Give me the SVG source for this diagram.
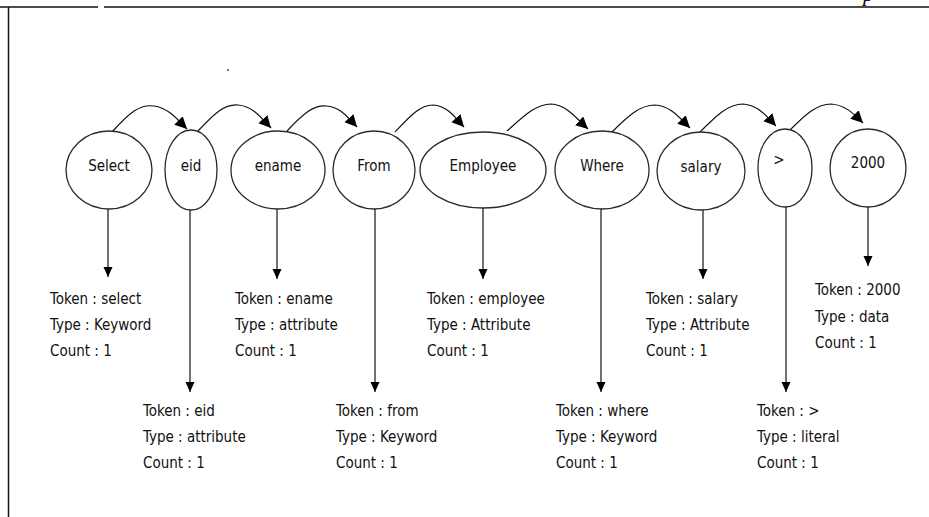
<svg xmlns="http://www.w3.org/2000/svg" width="929" height="517" viewBox="0 0 929 517">
<style>
.n{fill:#fff;stroke:#2a2a2a;stroke-width:1.3}
.t{font-family:"DejaVu Sans Condensed","DejaVu Sans",sans-serif;font-size:15px;fill:#111}
.c{text-anchor:middle}
.cv{fill:none;stroke:#111;stroke-width:1.2;marker-end:url(#ah)}
.dn{fill:none;stroke:#111;stroke-width:1.2;marker-end:url(#dh)}
</style>
<defs>
<marker id="ah" markerUnits="userSpaceOnUse" markerWidth="14" markerHeight="14" refX="12" refY="6" orient="auto"><path d="M0,0 L12,6 L0,12 z" fill="#000"/></marker>
<marker id="dh" markerUnits="userSpaceOnUse" markerWidth="10" markerHeight="12" refX="10" refY="4.5" orient="auto"><path d="M0,0 L10,4.5 L0,9 z" fill="#000"/></marker>
</defs>
<rect width="929" height="517" fill="#fff"/>
<g id="frame">
<line x1="0" y1="7" x2="98" y2="7" stroke="#111" stroke-width="1.5"/>
<line x1="104" y1="7" x2="929" y2="7" stroke="#111" stroke-width="1.5"/>
<line x1="8.5" y1="7" x2="8.5" y2="517" stroke="#111" stroke-width="1.5"/>
<text x="863" y="1" font-family="Liberation Serif,serif" font-style="italic" font-size="22" fill="#111">p</text>
<rect x="227" y="69" width="2" height="2" fill="#777"/>
</g>
<g id="connectors">
<path class="cv" d="M112 132 C130 112,140 104,154 106 C168 108,176 118,187 129"/>
<path class="cv" d="M198 131 C214 114,224 104,238 105 C252 106,260 116,271 128"/>
<path class="cv" d="M287 131 C303 114,313 105,326 106 C340 107,347 116,357 127"/>
<path class="cv" d="M395 132 C410 116,420 105,433 105 C447 106,454 116,464 127"/>
<path class="cv" d="M507 131 C524 116,536 104,551 104 C567 105,576 118,588 129"/>
<path class="cv" d="M612 132 C628 116,640 105,655 105 C670 106,678 116,690 128"/>
<path class="cv" d="M700 132 C716 116,728 104,743 104 C757 105,765 114,776 126"/>
<path class="cv" d="M790 130 C806 114,817 104,831 104 C845 105,853 113,863 123"/>
<line class="dn" x1="108" y1="209" x2="108" y2="277"/>
<line class="dn" x1="190" y1="210" x2="190" y2="392"/>
<line class="dn" x1="277" y1="209" x2="277" y2="279"/>
<line class="dn" x1="375" y1="209" x2="375" y2="392"/>
<line class="dn" x1="483" y1="208" x2="483" y2="279"/>
<line class="dn" x1="601" y1="209" x2="601" y2="392"/>
<line class="dn" x1="703" y1="210" x2="703" y2="279"/>
<line class="dn" x1="786" y1="207" x2="786" y2="392"/>
<line class="dn" x1="868" y1="207" x2="868" y2="266"/>
</g>
<g id="node-select">
<ellipse class="n" cx="109" cy="170" rx="43" ry="39"/>
<text class="t c" x="109" y="171">Select</text>
<text class="t" x="50" y="304">Token : select</text>
<text class="t" x="50" y="330">Type : Keyword</text>
<text class="t" x="50" y="356">Count : 1</text>
</g>
<g id="node-eid">
<ellipse class="n" cx="191" cy="170" rx="26" ry="40"/>
<text class="t c" x="191" y="171">eid</text>
<text class="t" x="143" y="416">Token : eid</text>
<text class="t" x="143" y="442">Type : attribute</text>
<text class="t" x="143" y="468">Count : 1</text>
</g>
<g id="node-ename">
<ellipse class="n" cx="278" cy="170" rx="47" ry="39"/>
<text class="t c" x="278" y="171">ename</text>
<text class="t" x="235" y="304">Token : ename</text>
<text class="t" x="235" y="330">Type : attribute</text>
<text class="t" x="235" y="356">Count : 1</text>
</g>
<g id="node-from">
<ellipse class="n" cx="374" cy="170" rx="41" ry="39"/>
<text class="t c" x="374" y="171">From</text>
<text class="t" x="336" y="416">Token : from</text>
<text class="t" x="336" y="442">Type : Keyword</text>
<text class="t" x="336" y="468">Count : 1</text>
</g>
<g id="node-employee">
<ellipse class="n" cx="483" cy="170" rx="63" ry="38"/>
<text class="t c" x="483" y="171">Employee</text>
<text class="t" x="427" y="304">Token : employee</text>
<text class="t" x="427" y="330">Type : Attribute</text>
<text class="t" x="427" y="356">Count : 1</text>
</g>
<g id="node-where">
<ellipse class="n" cx="602" cy="170" rx="47" ry="39"/>
<text class="t c" x="602" y="171">Where</text>
<text class="t" x="556" y="416">Token : where</text>
<text class="t" x="556" y="442">Type : Keyword</text>
<text class="t" x="556" y="468">Count : 1</text>
</g>
<g id="node-salary">
<ellipse class="n" cx="701" cy="171" rx="44" ry="39"/>
<text class="t c" x="701" y="172">salary</text>
<text class="t" x="646" y="304">Token : salary</text>
<text class="t" x="646" y="330">Type : Attribute</text>
<text class="t" x="646" y="356">Count : 1</text>
</g>
<g id="node-gt">
<ellipse class="n" cx="785" cy="168" rx="27" ry="39"/>
<text class="t c" x="779" y="165">&gt;</text>
<text class="t" x="757" y="416">Token : &gt;</text>
<text class="t" x="757" y="442">Type : literal</text>
<text class="t" x="757" y="468">Count : 1</text>
</g>
<g id="node-2000">
<ellipse class="n" cx="868" cy="168" rx="38" ry="39"/>
<text class="t c" x="868" y="168">2000</text>
<text class="t" x="815" y="295">Token : 2000</text>
<text class="t" x="815" y="322">Type : data</text>
<text class="t" x="815" y="348">Count : 1</text>
</g>
</svg>
